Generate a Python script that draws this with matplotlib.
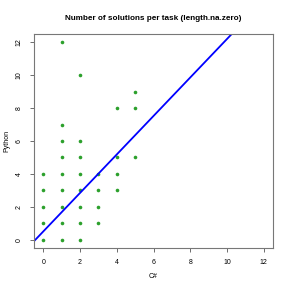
import matplotlib
matplotlib.use("Agg")
import matplotlib.pyplot as plt

# solutions per task: C# count vs Python count
csharp = [0, 0, 0, 0, 0,
          1, 1, 1, 1, 1, 1, 1, 1, 1,
          2, 2, 2, 2, 2, 2, 2, 2,
          3, 3, 3, 3,
          4, 4, 4, 4,
          5, 5, 5]
python = [0, 1, 2, 3, 4,
          0, 1, 2, 3, 4, 5, 6, 7, 12,
          0, 1, 2, 3, 4, 5, 6, 10,
          1, 2, 3, 4,
          3, 4, 5, 8,
          5, 8, 9]

# fitted line (intercept, slope)
intercept = 0.5
slope = 1.17

ticks = [0, 2, 4, 6, 8, 10, 12]

plt.rcParams['font.family'] = ['Liberation Sans', 'DejaVu Sans']

fig = plt.figure(figsize=(2.91, 2.91), dpi=100)
ax = fig.add_axes([34 / 291, 43 / 291, 239 / 291, 214 / 291])

ax.plot(csharp, python, 'o', color='#2ca02c', markersize=2.6, markeredgewidth=0)
ax.axline((0, intercept), slope=slope, color='#0000ff', linewidth=1.3)

ax.set_xlim(-0.5, 12.5)
ax.set_ylim(-0.5, 12.5)
ax.set_xticks(ticks)
ax.set_yticks(ticks)
ax.tick_params(labelsize=5, length=3, width=0.6, color='#555555', pad=5)
for lab in ax.get_yticklabels():
    lab.set_rotation(90)
    lab.set_va('center')
for s in ax.spines.values():
    s.set_color('#777777')
    s.set_linewidth(0.8)

ax.set_xlabel('C#', fontsize=5)
ax.set_ylabel('Python', fontsize=5)
ax.xaxis.set_label_coords(0.5, -0.135, transform=ax.transAxes)
ax.yaxis.set_label_coords(-0.113, 0.5, transform=ax.transAxes)
ax.xaxis.label.set_va('center')
ax.yaxis.label.set_va('center')
ax.set_title('Number of solutions per task (length.na.zero)', fontsize=5.9,
             fontweight='bold', pad=10)

fig.savefig('out.png', dpi=100)
